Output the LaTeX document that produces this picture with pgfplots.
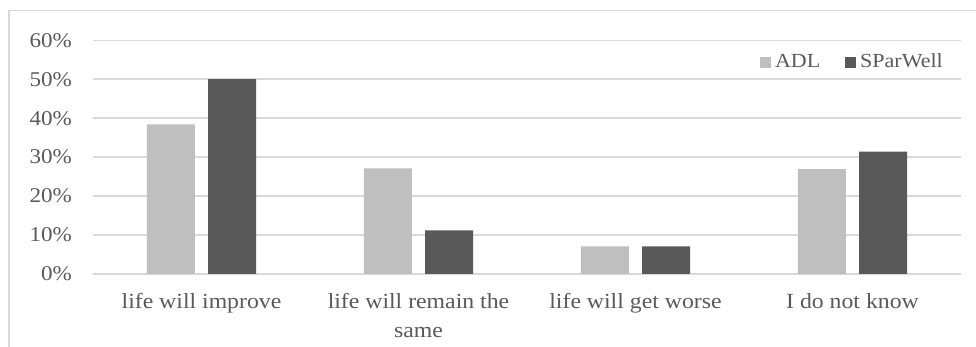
\documentclass[border=0pt]{standalone}
\usepackage{fontspec}
\setmainfont{Liberation Serif}[FakeStretch=1.1]
\usepackage{pgfplots}
\pgfplotsset{compat=1.18}
\definecolor{adl}{HTML}{BFBFBF}
\definecolor{spw}{HTML}{595959}
\definecolor{gridc}{HTML}{D9D9D9}
\definecolor{txt}{HTML}{595959}

\begin{document}
\begin{tikzpicture}[x=1pt,y=1pt]
\useasboundingbox (0,0) rectangle (488,-173.5);
% chart frame
\draw[gridc, line width=0.6pt] (4.5,-180) -- (4.5,-5.15) -- (495,-5.15);
\begin{axis}[
  at={(46.5pt,-137pt)}, anchor=south west,
  scale only axis, width=434pt, height=116.85pt,
  xmin=-0.5, xmax=3.5, ymin=0, ymax=60,
  ybar=6.66pt, bar width=24pt,
  axis line style={draw=none},
  major tick length=0pt,
  ymajorgrids, grid style={gridc, line width=0.75pt},
  xtick={0,1,2,3},
  xticklabels={life will improve, {life will remain the\\same}, life will get worse, I do not know},
  x tick label style={align=center, text=txt, font=\fontsize{10.8}{14.5}\selectfont, yshift=-6.3pt},
  ytick={0,10,...,60},
  yticklabels={0\%,10\%,20\%,30\%,40\%,50\%,60\%},
  y tick label style={text=txt, font=\fontsize{10.5}{12}\selectfont, xshift=-7pt},
  legend columns=2,
  legend style={at={(axis description cs:0.991,0.907)}, anchor=east,
    draw=none, fill=none, font=\fontsize{10}{12}\selectfont, text=txt,
    /tikz/every even column/.append style={column sep=10.5pt}},
  legend image code/.code={\fill[#1] (0pt,-2.75pt) rectangle (5.5pt,2.75pt);},
]
\addplot[fill=adl, draw=none] coordinates {(0,38.4) (1,27.1) (2,7.1) (3,26.9)};
\addplot[fill=spw, draw=none] coordinates {(0,50.0) (1,11.2) (2,7.1) (3,31.4)};
\legend{ADL, SParWell}
\end{axis}
\end{tikzpicture}
\end{document}
